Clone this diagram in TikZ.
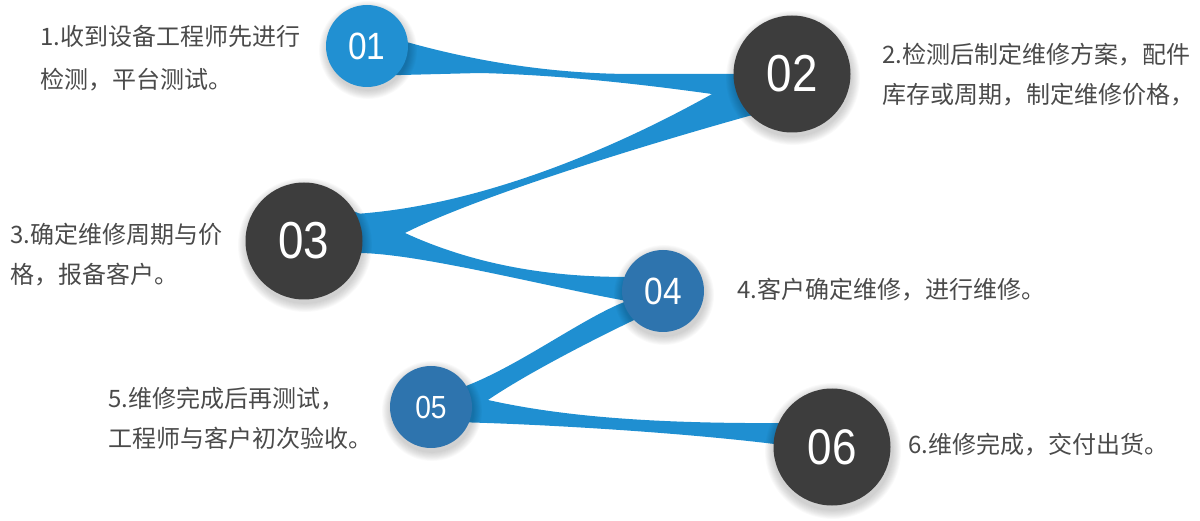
\documentclass[tikz,border=0pt]{standalone}
\usepackage{fontspec}
\setmainfont{Noto Sans CJK SC}
\newfontfamily\numfont[FakeStretch=0.88]{Liberation Sans}
\usetikzlibrary{calc,backgrounds}

\definecolor{ribbonblue}{RGB}{31,143,209}
\definecolor{lightblue}{RGB}{33,144,210}
\definecolor{steelblue}{RGB}{46,116,174}
\definecolor{darkgrey}{RGB}{61,61,61}
\definecolor{textgrey}{RGB}{74,74,74}

\begin{document}
\begin{tikzpicture}
[x=1pt,y=-1pt]

  \tikzstyle{every node}=[inner sep=0pt]
  \tikzstyle{disc}=[circle,text=white]
  \tikzstyle{small disc}=[disc,minimum size=82pt,font=\numfont\fontsize{38}{38}\selectfont]
  \tikzstyle{big disc}=[disc,minimum size=117pt,fill=darkgrey,font=\numfont\fontsize{52}{52}\selectfont]
  \tikzstyle{note}=[anchor=west,align=left,text=textgrey,font=\fontsize{24}{40}\selectfont]
  \tikzstyle{ribbon}=[fill=ribbonblue]

  \useasboundingbox (0,0) rectangle (1200,521);

  % steps
  \node[small disc,fill=lightblue] (n1) at (367,46)  {01};
  \node[big disc]                  (n2) at (792,74)  {02};
  \node[big disc]                  (n3) at (304,241) {03};
  \node[small disc,fill=steelblue] (n4) at (663,291) {04};
  \node[small disc,fill=steelblue,font=\numfont\fontsize{32}{32}\selectfont]
                                   (n5) at (431,407) {05};
  \node[big disc,font=\numfont\fontsize{50}{50}\selectfont]
                                   (n6) at (832,447) {06};

  % texts
  \node[note,font=\fontsize{24}{43}\selectfont] (d1) at (40,58.5) {1.收到设备工程师先进行\\检测，平台测试。};
  \node[note] (d2) at (882,75)  {2.检测后制定维修方案，配件\\库存或周期，制定维修价格，};
  \node[note] (d3) at (10,255)  {3.确定维修周期与价\\格，报备客户。};
  \node[note] (d4) at (737,290) {4.客户确定维修，进行维修。};
  \node[note] (d5) at (108,418) {5.维修完成后再测试，\\工程师与客户初次验收。};
  \node[note] (d6) at (908,445) {6.维修完成，交付出货。};

  % tips of the turns
  \coordinate (t2) at (712,94);
  \coordinate (t3) at (405,233);
  \coordinate (t5) at (488,400);

  \begin{scope}[on background layer]
    % ribbon
    \fill[ribbon] (n1.center) -- (n1.5) .. controls (482,63) and (558,74) .. (634,74)
      -- (n2.center) -- (n2.-135) -- (t2) .. controls (640,84) and (560,75) .. (480,73)
      -- (n1.-45) -- cycle;
    \fill[ribbon] (n2.center) -- (t2) .. controls (630,140) and (490,205) .. (355,214)
      -- (n3.center) -- (t3) .. controls (470,200) and (620,152) .. (n2.-135) -- cycle;
    \fill[ribbon] (n3.center) -- (n3.30) -- (t3) .. controls (468,262) and (541,277) .. (n4.160)
      -- (n4.center) -- (n4.193) .. controls (540,285) and (420,254) .. (360,253) -- cycle;
    \fill[ribbon] (n4.center) -- (n4.196) .. controls (580,320) and (520,365) .. (466,386)
      -- (n5.center) -- (t5) .. controls (520,378) and (580,346) .. (n4.-135) -- cycle;
    \fill[ribbon] (n5.center) -- (n5.20) -- (t5) .. controls (560,416) and (650,424) .. (790,423)
      -- (n6.center) -- (790,446) .. controls (700,434) and (560,425) .. (n5.-22) -- cycle;

    % soft shadows
    \foreach \n/\rad in {n1/40,n2/58,n3/58,n4/41,n5/41,n6/59}
      \foreach \k in {1,...,10}
        \fill[black,opacity=0.018] ($(\n.center)+(1,4)$) circle[radius={\rad pt+0.9pt*\k}];
  \end{scope}
\end{tikzpicture}
\end{document}
